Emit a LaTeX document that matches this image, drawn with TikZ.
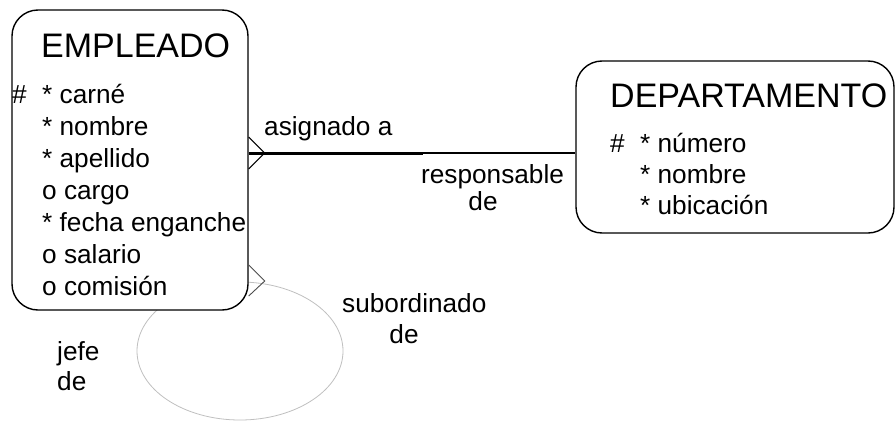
\documentclass[tikz,border=0pt]{standalone}
\usepackage{fontspec}
\setmainfont{Liberation Sans}
\usetikzlibrary{calc}

\tikzset{
	entidad/.style={draw, fill=white, rounded corners=26, line width=1.4, inner sep=0},
	titulo/.style={anchor=base west, inner sep=0, font=\fontsize{34}{40}\selectfont},
	atrib/.style={anchor=base west, inner sep=0, font=\fontsize{26.2}{32}\selectfont},
	rotulo/.style={atrib},
}

\begin{document}
\begin{tikzpicture}[x=1pt, y=-1pt]
	\useasboundingbox (0,0) rectangle (896,423);
	% recursive relation (drawn first, the box covers it)
	\draw[black!25, line width=0.8] (240,351) ellipse [x radius=103, y radius=69];
	\node[entidad, minimum width=236, minimum height=300] (empleado) at (130,160) {};
	\node[entidad, minimum width=318, minimum height=172] (departamento) at (735,147) {};

	\node[titulo] (emp-tit) at (41,57) {EMPLEADO};
	\node[atrib] (emp-pk) at (12,103) {\#};
	\foreach \t [count=\i] in {* carné, * nombre, * apellido, o cargo, * fecha enganche, o salario, o comisión}
		\node[atrib] (emp-\i) at (42,71+32*\i) {\t};

	\node[titulo] (dep-tit) at (610,107) {DEPARTAMENTO};
	\node[atrib] (dep-pk) at (610,152) {\#};
	\foreach \t [count=\i] in {* número, * nombre, * ubicación}
		\node[atrib] (dep-\i) at (640,121+31*\i) {\t};

	% asignado a / responsable de
	\coordinate (rel) at (423,153);
	\draw[line width=3] (rel -| empleado.east) -- (rel);
	\draw[line width=1.2] (rel) -- (rel -| departamento.west);
	\draw[line width=1.1] (rel -| empleado.east) ++(0,-16) -- ++(16,16) -- ++(-16,16);
	\node[rotulo] (asig) at (264,135) {asignado a};
	\node[rotulo] (resp) at (421,183) {responsable};
	\node[rotulo, anchor=base] (resp-de) at (483,210) {de};

	% subordinado de / jefe de
	\coordinate (lazo) at (empleado.east |- 0,281);
	\draw[black!70, line width=0.9] (lazo) ++(0,-16) -- ++(16,16) -- ++(-16,15);
	\node[rotulo] (sub) at (342,312) {subordinado};
	\node[rotulo, anchor=base] (sub-de) at (404,343) {de};
	\node[rotulo] (jefe) at (57,360) {jefe};
	\node[rotulo] (jefe-de) at (57,390) {de};
\end{tikzpicture}
\end{document}
